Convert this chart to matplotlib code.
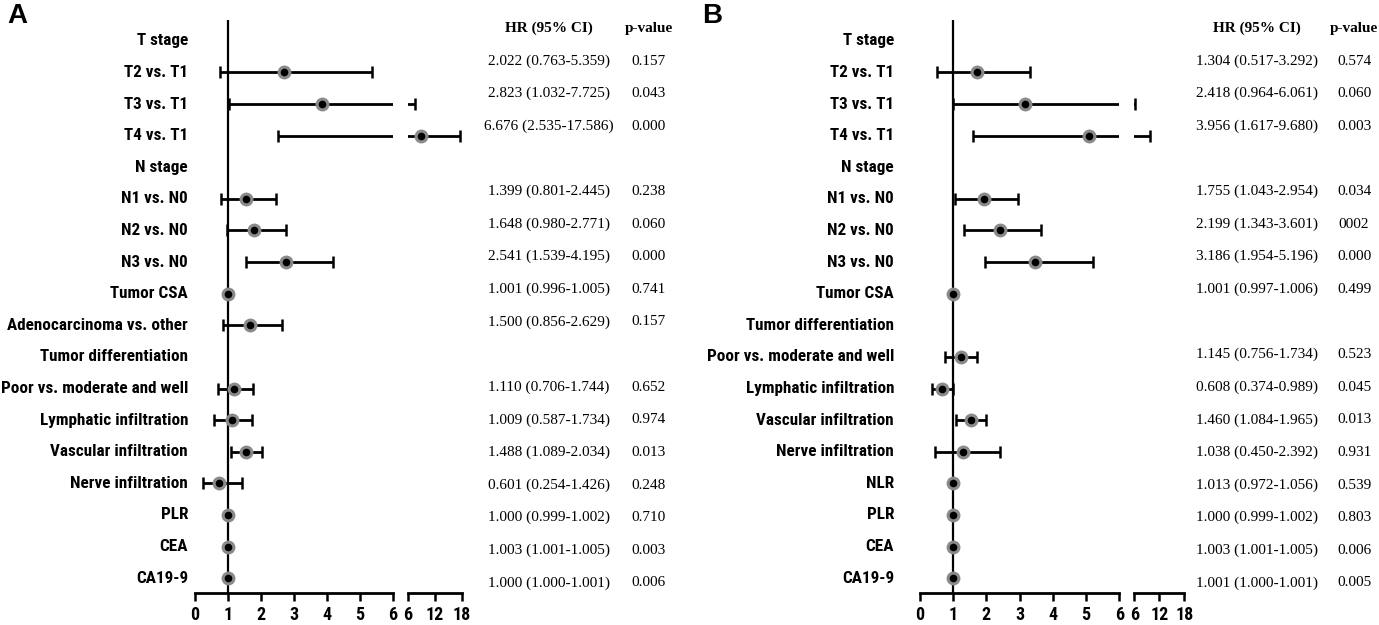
import numpy as np
import matplotlib
matplotlib.use('Agg')
import matplotlib.pyplot as plt
import matplotlib.transforms as mtransforms

nan = np.nan

# Panel A (left)
labels_a = ["T stage", "T2 vs. T1", "T3 vs. T1", "T4 vs. T1", "N stage", "N1 vs. N0", "N2 vs. N0",
            "N3 vs. N0", "Tumor CSA", "Adenocarcinoma vs. other", "Tumor differentiation",
            "Poor vs. moderate and well", "Lymphatic infiltration", "Vascular infiltration",
            "Nerve infiltration", "PLR", "CEA", "CA19-9"]
# positions of the drawn marks
hr_a = [nan, 2.71, 3.86, 8.89, nan, 1.55, 1.79, 2.76, 1.0, 1.67, nan, 1.19, 1.11, 1.55, 0.74, 1.0, 1.0, 1.0]
lo_a = [nan, 0.76, 1.03, 2.53, nan, 0.79, 0.97, 1.54, 1.0, 0.86, nan, 0.71, 0.58, 1.08, 0.25, 1.0, 1.0, 1.0]
hi_a = [nan, 5.36, 7.70, 17.6, nan, 2.45, 2.76, 4.20, 1.0, 2.64, nan, 1.75, 1.73, 2.04, 1.43, 1.0, 1.0, 1.0]
hr_txt_a = ["", "2.022 (0.763-5.359)", "2.823 (1.032-7.725)", "6.676 (2.535-17.586)", "",
            "1.399 (0.801-2.445)", "1.648 (0.980-2.771)", "2.541 (1.539-4.195)", "1.001 (0.996-1.005)",
            "1.500 (0.856-2.629)", "", "1.110 (0.706-1.744)", "1.009 (0.587-1.734)",
            "1.488 (1.089-2.034)", "0.601 (0.254-1.426)", "1.000 (0.999-1.002)",
            "1.003 (1.001-1.005)", "1.000 (1.000-1.001)"]
p_txt_a = ["", "0.157", "0.043", "0.000", "", "0.238", "0.060", "0.000", "0.741", "0.157", "",
           "0.652", "0.974", "0.013", "0.248", "0.710", "0.003", "0.006"]

# Panel B (right)
labels_b = ["T stage", "T2 vs. T1", "T3 vs. T1", "T4 vs. T1", "N stage", "N1 vs. N0", "N2 vs. N0",
            "N3 vs. N0", "Tumor CSA", "Tumor differentiation", "Poor vs. moderate and well",
            "Lymphatic infiltration", "Vascular infiltration", "Nerve infiltration", "NLR", "PLR",
            "CEA", "CA19-9"]
hr_b = [nan, 1.71, 3.16, 5.10, nan, 1.93, 2.41, 3.46, 1.0, nan, 1.23, 0.65, 1.53, 1.30, 1.0, 1.0, 1.0, 1.0]
lo_b = [nan, 0.52, 0.98, 1.60, nan, 1.04, 1.33, 1.96, 1.0, nan, 0.75, 0.37, 1.08, 0.45, 1.0, 1.0, 1.0, 1.0]
hi_b = [nan, 3.31, 6.06, 9.77, nan, 2.96, 3.63, 5.22, 1.0, nan, 1.73, 0.98, 1.98, 2.41, 1.0, 1.0, 1.0, 1.0]
hr_txt_b = ["", "1.304 (0.517-3.292)", "2.418 (0.964-6.061)", "3.956 (1.617-9.680)", "",
            "1.755 (1.043-2.954)", "2.199 (1.343-3.601)", "3.186 (1.954-5.196)", "1.001 (0.997-1.006)",
            "", "1.145 (0.756-1.734)", "0.608 (0.374-0.989)", "1.460 (1.084-1.965)",
            "1.038 (0.450-2.392)", "1.013 (0.972-1.056)", "1.000 (0.999-1.002)",
            "1.003 (1.001-1.005)", "1.001 (1.000-1.001)"]
p_txt_b = ["", "0.574", "0.060", "0.003", "", "0.034", "0002", "0.000", "0.499", "",
           "0.523", "0.045", "0.013", "0.931", "0.539", "0.803", "0.006", "0.005"]

left_ticks = [0, 1, 2, 3, 4, 5, 6]
right_ticks = [6, 12, 18]

W, H = 1379, 625
narrow = ['Roboto Condensed', 'Liberation Sans', 'DejaVu Sans']
serif = ['Liberation Serif', 'DejaVu Serif']
lab_size = 12.3
tick_size = 13
txt_size = 11

fig = plt.figure(figsize=(W / 100, H / 100), dpi=100)


def px(x0, x1, y0=20, y1=593):
    return [x0 / W, 1 - y1 / H, (x1 - x0) / W, (y1 - y0) / H]


def draw_panel(letter, letter_x, labels, hr, lo, hi, hr_txt, p_txt,
               x0, x6, x6b, x18, label_x, hr_x, p_x):
    n = len(labels)
    rows = np.arange(n)
    hr = np.array(hr)
    lo = np.array(lo)
    hi = np.array(hi)
    ok = ~np.isnan(hr)

    ax1 = fig.add_axes(px(x0, x6))
    ax2 = fig.add_axes(px(x6b, x18))
    for ax, xl, ticks in ((ax1, (0, 6), left_ticks), (ax2, (6, 18), right_ticks)):
        ax.set_xlim(*xl)
        ax.set_ylim(n - 0.53, -0.66)
        for s in ('top', 'right', 'left'):
            ax.spines[s].set_visible(False)
        ax.spines['bottom'].set_linewidth(2)
        ax.set_yticks([])
        ax.set_xticks(ticks)
        ax.tick_params(axis='x', direction='out', length=6, width=1.8, pad=3)
        for t in ax.get_xticklabels():
            t.set_family(narrow)
            t.set_fontweight('bold')
            t.set_fontsize(tick_size)
        ax.patch.set_alpha(0)
        ax.errorbar(hr[ok], rows[ok], xerr=[hr[ok] - lo[ok], hi[ok] - hr[ok]], fmt='none',
                    ecolor='black', elinewidth=2, capsize=4.5, capthick=1.8, zorder=3)
        # only the points that fall inside this part of the broken axis
        inside = ok & (hr >= xl[0]) & (hr <= xl[1])
        ax.plot(hr[inside], rows[inside], 'o', ms=10, color='#8a8a8a', mec='none', zorder=4)
        ax.plot(hr[inside], rows[inside], 'o', ms=5.5, color='black', mec='none', zorder=5)
    ax1.axvline(1, color='black', lw=1.6, zorder=2)

    trans = mtransforms.blended_transform_factory(fig.transFigure, ax1.transData)
    for i, lab in enumerate(labels):
        ax1.text(label_x / W, i, lab, transform=trans, ha='right', va='center',
                 family=narrow, fontweight='bold', fontsize=lab_size)

    # text columns sit on their own slightly wider grid
    for i in range(n):
        y = 1 - (28.4 + i * 32.62) / H
        if i == 0:
            fig.text(hr_x / W, y, "HR (95% CI)", ha='center', va='center', family=serif,
                     fontweight='bold', fontsize=txt_size)
            fig.text(p_x / W, y, "p-value", ha='center', va='center', family=serif,
                     fontweight='bold', fontsize=txt_size)
            continue
        fig.text(hr_x / W, y, hr_txt[i], ha='center', va='center', family=serif, fontsize=txt_size)
        fig.text(p_x / W, y, p_txt[i], ha='center', va='center', family=serif, fontsize=txt_size)

    fig.text(letter_x / W, 1 - 16 / H, letter, ha='left', va='center', family=['Liberation Sans'],
             fontweight='bold', fontsize=20)


draw_panel("A", 7, labels_a, hr_a, lo_a, hi_a, hr_txt_a, p_txt_a,
           195, 392.7, 407.7, 461.7, 188, 549, 649)
draw_panel("B", 702, labels_b, hr_b, lo_b, hi_b, hr_txt_b, p_txt_b,
           920, 1119.3, 1134.3, 1184.3, 894, 1257, 1354)

fig.savefig('out.png', dpi=100)
